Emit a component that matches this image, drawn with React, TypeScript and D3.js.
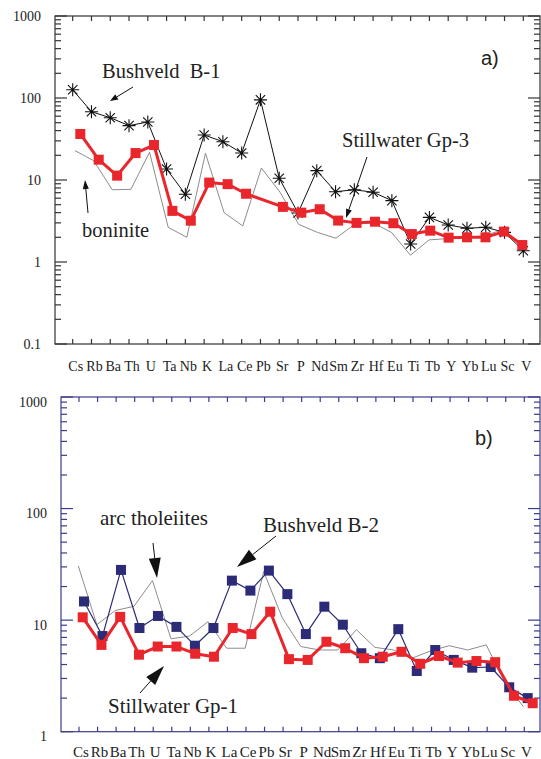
import React, { useEffect, useRef } from 'react'
import * as d3 from 'd3'

// element order on the x axis (same for both diagrams)
const elements = ['Cs', 'Rb', 'Ba', 'Th', 'U', 'Ta', 'Nb', 'K', 'La', 'Ce', 'Pb', 'Sr', 'P', 'Nd', 'Sm', 'Zr', 'Hf', 'Eu', 'Ti', 'Tb', 'Y', 'Yb', 'Lu', 'Sc', 'V']

// panel a)
const bushveldB1 = [126, 68, 57.5, 46, 51, 13.6, 6.7, 35.4, 29.3, 21.3, 95, 10.5, 3.96, 13.0, 7.2, 7.6, 7.1, 5.6, 1.66, 3.5, 2.83, 2.58, 2.65, 2.3, 1.37]
const stillwaterGp3 = [36.4, 17.7, 11.3, 21.3, 26.7, 4.2, 3.19, 9.3, 8.9, 6.8, null, 4.7, 4.0, 4.4, 3.2, 3.0, 3.1, 2.97, 2.19, 2.41, 1.98, 2.0, 2.0, 2.35, 1.61]
const boninite = [22.8, 17.2, 7.6, 7.7, 21.8, 2.65, 2.0, 21.2, 4.0, 2.75, 14, 7.1, 2.88, 2.3, 1.95, 2.88, 3.0, 2.28, 1.21, 1.86, 1.93, 1.98, 2.1, 2.5, 1.55]

// panel b)
const bushveldB2 = [14.7, 7.2, 28.2, 8.5, 10.9, 8.7, 5.9, 8.5, 22.6, 18.4, 27.8, 17.1, 7.5, 13.2, 9.1, 5.05, 4.56, 8.3, 3.5, 5.4, 4.4, 3.75, 3.8, 2.5, 2.0]
const stillwaterGp1 = [10.6, 6.0, 10.7, 4.9, 5.8, 5.8, 5.0, 4.7, 8.5, 7.5, 11.9, 4.47, 4.4, 6.4, 5.6, 4.56, 4.7, 5.2, 4.06, 4.77, 4.16, 4.3, 4.2, 2.1, 1.8]
const arcTholeiites = [30.6, 9.1, 12.2, 13.3, 22.6, 6.8, 7.2, 9.7, 5.6, 5.6, 27.2, 10.5, 5.8, 5.4, 5.4, 8.2, 5.7, 5.4, 4.56, 5.3, 5.9, 5.4, 6.0, 2.8, 1.68]

const yTicksA = [0.1, 1, 10, 100, 1000]
const yTicksB = [1, 10, 100, 1000]

const RED = '#e8262c'
const NAVY = '#2b2b78'
const GRAY = '#8c8c8c'
const SERIF = '"Liberation Serif", "Times New Roman", serif'
const SANS = '"Liberation Sans", Arial, sans-serif'

const drawFrame = (g, cfg) => {
  const { y, left, right, top, bottom, ticks, xTick, color, labelDy, catSize, catY, catDx } = cfg
  const ax = g.append('g').attr('stroke', color).attr('stroke-width', 1.2).attr('fill', 'none')
  ax.append('rect').attr('x', left).attr('y', top).attr('width', right - left).attr('height', bottom - top)

  // log ticks on left and right
  const lo = Math.log10(ticks[0]), hi = Math.log10(ticks[ticks.length - 1])
  for (let e = lo; e <= hi; e++) {
    const base = Math.pow(10, e)
    ax.append('line').attr('x1', left).attr('x2', left + 12).attr('y1', y(base)).attr('y2', y(base))
    ax.append('line').attr('x1', right).attr('x2', right - 12).attr('y1', y(base)).attr('y2', y(base))
    if (e === hi) continue
    for (let m = 2; m <= 9; m++) {
      const yy = y(base * m)
      ax.append('line').attr('x1', left).attr('x2', left + 6).attr('y1', yy).attr('y2', yy)
      ax.append('line').attr('x1', right).attr('x2', right - 6).attr('y1', yy).attr('y2', yy)
    }
  }
  // category ticks top and bottom
  elements.forEach(el => {
    const xx = xTick(el)
    ax.append('line').attr('x1', xx).attr('x2', xx).attr('y1', top).attr('y2', top + 5)
    ax.append('line').attr('x1', xx).attr('x2', xx).attr('y1', bottom).attr('y2', bottom - 5)
  })

  g.selectAll('.ylab').data(ticks).join('text')
    .attr('x', left - 14).attr('y', d => y(d) + labelDy)
    .attr('text-anchor', 'end').attr('dominant-baseline', 'central')
    .attr('font-family', SERIF).attr('font-size', 14).attr('fill', '#222')
    .text(d => String(d))

  g.selectAll('.xlab').data(elements).join('text')
    .attr('x', d => xTick(d) + catDx).attr('y', catY)
    .attr('text-anchor', 'middle')
    .attr('font-family', SERIF).attr('font-size', catSize).attr('fill', '#222')
    .text(d => d)
}

const drawLine = (g, values, x, y, color, width) => {
  const pts = elements.map((el, i) => [x(el), values[i]]).filter(d => d[1] != null)
  g.append('path')
    .attr('d', d3.line().x(d => d[0]).y(d => y(d[1]))(pts))
    .attr('fill', 'none').attr('stroke', color).attr('stroke-width', width)
    .attr('stroke-linejoin', 'round')
}

const drawSquares = (g, values, x, y, color) => {
  const pts = elements.map((el, i) => [x(el), values[i]]).filter(d => d[1] != null)
  g.append('g').selectAll('rect').data(pts).join('rect')
    .attr('x', d => d[0] - 5).attr('y', d => y(d[1]) - 5)
    .attr('width', 10).attr('height', 10).attr('fill', color)
}

const drawStars = (g, values, x, y) => {
  const r = 6.5, s = r * 0.72
  const star = `M${-r},0L${r},0M0,${-r}L0,${r}M${-s},${-s}L${s},${s}M${-s},${s}L${s},${-s}`
  g.append('g').selectAll('path').data(values).join('path')
    .attr('transform', (d, i) => `translate(${x(elements[i])},${y(d)})`)
    .attr('d', star).attr('stroke', '#111').attr('stroke-width', 1.1).attr('fill', 'none')
}

const arrow = (g, x1, y1, x2, y2, len, half) => {
  const a = Math.atan2(y2 - y1, x2 - x1)
  const bx = x2 - len * Math.cos(a), by = y2 - len * Math.sin(a)
  g.append('line').attr('x1', x1).attr('y1', y1).attr('x2', bx).attr('y2', by)
    .attr('stroke', '#111').attr('stroke-width', 1)
  const p = [
    [x2, y2],
    [bx + half * Math.sin(a), by - half * Math.cos(a)],
    [bx - half * Math.sin(a), by + half * Math.cos(a)],
  ]
  g.append('polygon').attr('points', p.map(q => q.join(',')).join(' ')).attr('fill', '#111')
}

const label = (g, x, y, txt, size, family = SERIF) => {
  g.append('text').attr('x', x).attr('y', y).attr('font-family', family)
    .attr('font-size', size).attr('fill', '#222').text(txt)
}

const App = () => {
  const svgRef = useRef(null)

  useEffect(() => {
    const svg = d3.select(svgRef.current)
    svg.selectAll('*').remove()

    // ---------- panel a ----------
    const ga = svg.append('g')
    const yA = d3.scaleLog().domain([0.1, 1000]).range([344, 16])
    const xTickA = d3.scalePoint().domain(elements).range([72.7, 523.3])
    drawFrame(ga, {
      y: yA, left: 55, right: 540, top: 16, bottom: 344, ticks: yTicksA, xTick: xTickA,
      color: '#333', labelDy: 0.5, catSize: 14, catY: 371, catDx: 3,
    })
    const xBlk = d3.scalePoint().domain(elements).range([72.7, 523.3])
    const xRedA = d3.scalePoint().domain(elements).range([80.3, 522.3])
    const xGrayA = d3.scalePoint().domain(elements).range([75, 522.3])
    drawLine(ga, boninite, xGrayA, yA, GRAY, 1)
    drawLine(ga, bushveldB1, xBlk, yA, '#111', 1)
    drawStars(ga, bushveldB1, xBlk, yA)
    drawLine(ga, stillwaterGp3, xRedA, yA, RED, 3)
    drawSquares(ga, stillwaterGp3, xRedA, yA, RED)

    label(ga, 102, 78, 'Bushveld\u00a0\u00a0B-1', 20.5)
    arrow(ga, 133, 87, 110, 101, 8, 3)
    label(ga, 342, 147, 'Stillwater Gp-3', 20.5)
    arrow(ga, 367, 157, 346, 218, 9, 3)
    label(ga, 82, 237, 'boninite', 20.5)
    arrow(ga, 88, 213, 85, 180, 9, 3)
    label(ga, 481, 65, 'a)', 20, SANS)

    // ---------- panel b ----------
    const gb = svg.append('g')
    const yB = d3.scaleLog().domain([1, 1000]).range([731.7, 397])
    const xTickB = d3.scalePoint().domain(elements).range([79, 524.3])
    drawFrame(gb, {
      y: yB, left: 61, right: 540, top: 397, bottom: 731.7, ticks: yTicksB, xTick: xTickB,
      color: '#3b3b8c', labelDy: 5, catSize: 15, catY: 757, catDx: 2,
    })
    const xNavy = d3.scalePoint().domain(elements).range([84, 527.7])
    const xRedB = d3.scalePoint().domain(elements).range([82.7, 532.7])
    const xGrayB = d3.scalePoint().domain(elements).range([78.3, 523.3])
    drawLine(gb, arcTholeiites, xGrayB, yB, GRAY, 1)
    drawLine(gb, bushveldB2, xNavy, yB, NAVY, 1.2)
    drawSquares(gb, bushveldB2, xNavy, yB, NAVY)
    drawLine(gb, stillwaterGp1, xRedB, yB, RED, 3)
    drawSquares(gb, stillwaterGp1, xRedB, yB, RED)

    label(gb, 100, 525, 'arc tholeiites', 21)
    arrow(gb, 153, 543, 157, 578, 20, 6)
    label(gb, 263, 532, 'Bushveld B-2', 21)
    arrow(gb, 276, 536, 237, 567, 20, 6)
    label(gb, 108, 713, 'Stillwater Gp-1', 21)
    arrow(gb, 140, 693, 164, 666, 20, 6)
    label(gb, 475, 445, 'b)', 20, SANS)
  }, [])

  return (
    <svg ref={svgRef} width={541} height={759}
      style={{ position: 'absolute', left: 0, top: 0, background: '#fff' }} />
  )
}

export default App
